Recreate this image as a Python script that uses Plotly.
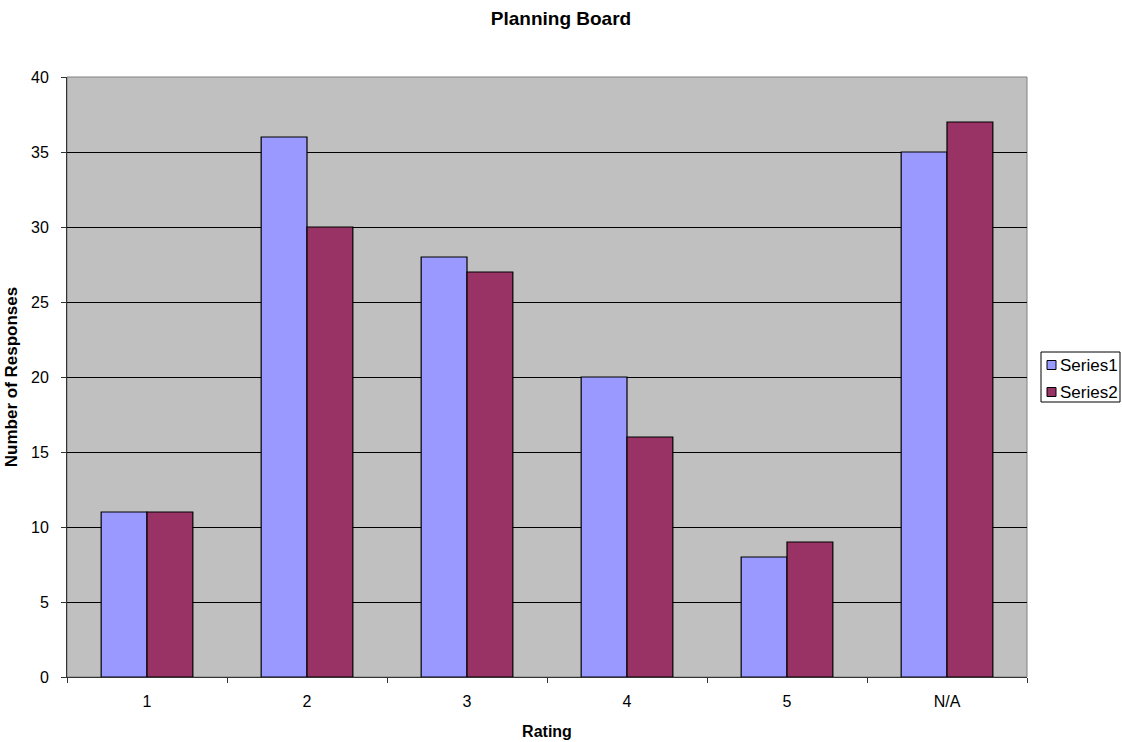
import plotly.graph_objects as go

categories = ["1", "2", "3", "4", "5", "N/A"]
series1 = [11, 36, 28, 20, 8, 35]
series2 = [11, 30, 27, 16, 9, 37]
series_names = ["Series1", "Series2"]
series_colors = ["#9999FF", "#993366"]
y_ticks = [0, 5, 10, 15, 20, 25, 30, 35, 40]

font = "Liberation Sans, Arial, sans-serif"

# plot area in pixels (for the hand-drawn legend box)
L, R, T, B = 67, 1027, 77, 677


def px_x(px):
    return (px - L) / (R - L)


def px_y(py):
    return (B - py) / (B - T)


fig = go.Figure()
for name, vals, col in zip(series_names, [series1, series2], series_colors):
    fig.add_trace(go.Bar(x=categories, y=vals, name=name, showlegend=False,
                         marker=dict(color=col, line=dict(color="black", width=1.2))))

fig.update_layout(
    width=1122, height=742,
    margin=dict(l=L, r=1122 - R, t=T, b=742 - B, autoexpand=False),
    paper_bgcolor="white", plot_bgcolor="#C0C0C0",
    barmode="group", bargap=0.427, bargroupgap=0,
    font=dict(family=font, size=16, color="black"),
    title=dict(text="<b>Planning Board</b>", x=0.5, xanchor="center", y=1 - 18 / 742, yanchor="middle",
               font=dict(family=font, size=19, color="black")),
    xaxis=dict(title=dict(text="<b>Rating</b>", font=dict(size=16), standoff=16),
               showline=True, linecolor="#333", linewidth=1, ticks="outside",
               tickson="boundaries", ticklen=5, tickcolor="#333", showgrid=False,
               ticklabelstandoff=10, automargin=False),
    yaxis=dict(title=dict(text="<b>Number of Responses</b>", font=dict(size=17), standoff=9),
               range=[0, 40], tickvals=y_ticks, showline=True, linecolor="#333", linewidth=1,
               ticks="outside", ticklen=5, tickcolor="#333", showgrid=True,
               gridcolor="black", gridwidth=1, zeroline=False,
               ticklabelstandoff=9, automargin=False),
    showlegend=False,
)
fig.add_shape(type="rect", xref="paper", yref="paper", x0=0, x1=1, y0=0, y1=1,
              line=dict(color="#808080", width=1), layer="below")

# legend box
fig.add_shape(type="rect", xref="paper", yref="paper",
              x0=px_x(1041), x1=px_x(1120), y0=px_y(402), y1=px_y(352),
              line=dict(color="black", width=1), fillcolor="white")
for i, (name, col) in enumerate(zip(series_names, series_colors)):
    cy = 365 + i * 27
    fig.add_shape(type="rect", xref="paper", yref="paper",
                  x0=px_x(1047), x1=px_x(1056), y0=px_y(cy + 4.5), y1=px_y(cy - 4.5),
                  line=dict(color="black", width=1), fillcolor=col)
    fig.add_annotation(xref="paper", yref="paper", x=px_x(1058), y=px_y(cy),
                       text=name, showarrow=False, xanchor="left", yanchor="middle",
                       font=dict(family=font, size=17, color="black"))

fig.write_html("out.html", config={"displayModeBar": False})
with open("out.html", encoding="utf-8") as f:
    html = f.read()
html = html.replace("<body>", '<body style="margin:0;overflow:hidden">', 1)
with open("out.html", "w", encoding="utf-8") as f:
    f.write(html)
